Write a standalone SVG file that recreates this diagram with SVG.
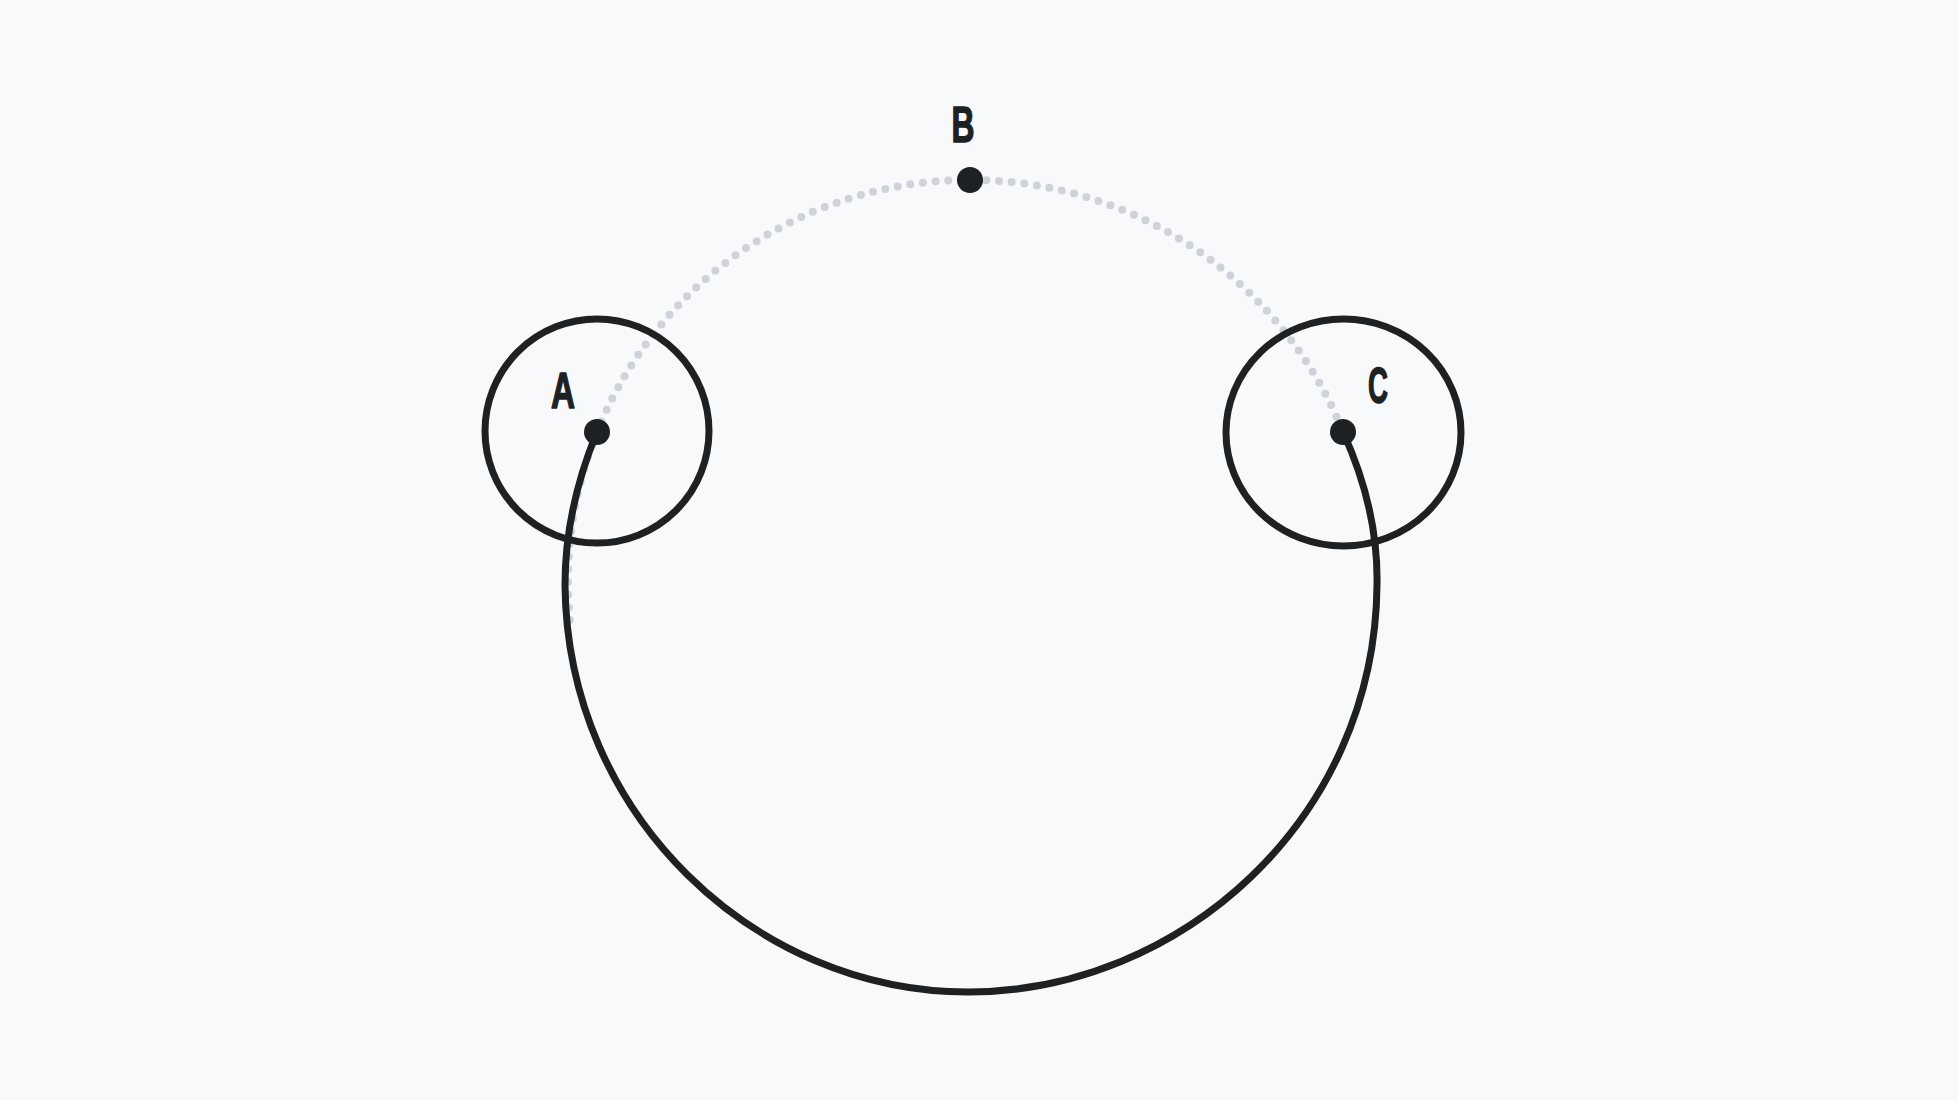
<svg xmlns="http://www.w3.org/2000/svg" width="1958" height="1100" viewBox="0 0 1958 1100">
  <style>
    .ring { fill: none; stroke: #1e2124; stroke-width: 7; }
    .pt { fill: #1e2124; }
    .lbl { font-family: "Liberation Sans", "DejaVu Sans", sans-serif; font-weight: bold; font-size: 50px; fill: #1e2124; stroke: #1e2124; stroke-width: 1.5; stroke-linejoin: round; text-anchor: middle; }
    .dotted { fill: none; stroke: #ced3d9; stroke-width: 8; stroke-linecap: round; stroke-dasharray: 0 12.7; }
    .solid { fill: none; stroke: #1e2124; stroke-width: 7; stroke-linecap: round; stroke-linejoin: round; }
  </style>
  <rect x="0" y="0" width="1958" height="1100" fill="#f8f9fa"/>
  <g id="connectors">
    <path class="dotted" d="M 569.8 620 A 402 402 0 0 1 1343 432"/>
    <path class="solid" d="M 597 432 C 578 478 565 530 565 585 C 567 815 755 992 968 992 C 1180 992 1375 820 1377 585 C 1378 530 1365 480 1343 432"/>
  </g>
  <g id="node-A">
    <circle class="ring" cx="597" cy="431" r="112"/>
    <circle class="pt" cx="597" cy="432" r="13"/>
    <text class="lbl" x="563" y="408" textLength="24" lengthAdjust="spacingAndGlyphs">A</text>
  </g>
  <g id="node-B">
    <circle class="pt" cx="970" cy="180" r="13"/>
    <text class="lbl" x="963" y="142" textLength="23" lengthAdjust="spacingAndGlyphs">B</text>
  </g>
  <g id="node-C">
    <ellipse class="ring" cx="1343.5" cy="432.5" rx="117.5" ry="113.5"/>
    <circle class="pt" cx="1343" cy="432" r="13"/>
    <text class="lbl" x="1378" y="403" textLength="20" lengthAdjust="spacingAndGlyphs">C</text>
  </g>
</svg>
